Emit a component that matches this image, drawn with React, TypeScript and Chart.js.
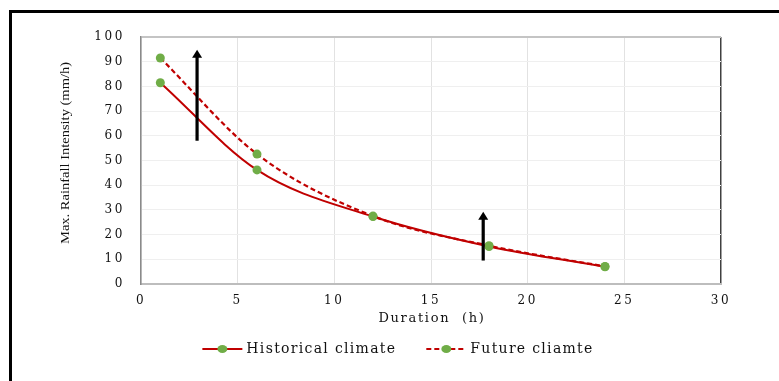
import React, { useEffect, useRef } from "react";
import { Chart, registerables } from "chart.js";

Chart.register(...registerables);

// ---- data ----
const durations = [1, 6, 12, 18, 24];
const historical = [81.5, 46.2, 27.3, 15.2, 7.0];
const future = [91.5, 52.6, 27.5, 15.5, 7.1];
const seriesNames = ["Historical climate", "Future cliamte"];
const xTitle = "Duration  (h)";
const yTitle = "Max. Rainfall Intensity (mm/h)";
const xMin = 0;
const xMax = 30;
const xStep = 5;
const yMin = 0;
const yMax = 100;
const yStep = 10;
// annotation arrows (data coordinates)
const arrowX = [2.9, 17.7];
const arrowFrom = [58, 9.5];
const arrowTo = [94.8, 29.3];

const RED = "#C00000";
const GREEN = "#70AD47";

const decorPlugin = {
  id: "decor",
  beforeDraw(chart: any) {
    chart.ctx.letterSpacing = "2.6px";
  },
  afterDatasetsDraw(chart: any) {
    const ctx = chart.ctx;
    const xs = chart.scales.x;
    const ys = chart.scales.y;
    ctx.save();
    ctx.strokeStyle = "#000";
    ctx.fillStyle = "#000";
    ctx.lineWidth = 3.2;
    for (let i = 0; i < arrowX.length; i++) {
      const px = xs.getPixelForValue(arrowX[i]);
      const y0 = ys.getPixelForValue(arrowFrom[i]);
      const y1 = ys.getPixelForValue(arrowTo[i]);
      const head = 8;
      const hw = 5;
      ctx.beginPath();
      ctx.moveTo(px, y0);
      ctx.lineTo(px, y1 + head - 1);
      ctx.stroke();
      ctx.beginPath();
      ctx.moveTo(px, y1);
      ctx.lineTo(px - hw, y1 + head);
      ctx.lineTo(px + hw, y1 + head);
      ctx.closePath();
      ctx.fill();
    }
    ctx.restore();
  },
  afterDraw(chart: any) {
    const ctx = chart.ctx;
    const area = chart.chartArea;
    ctx.save();
    // y title (condensed serif, rotated)
    ctx.letterSpacing = "0px";
    ctx.fillStyle = "#111";
    ctx.font = '14.5px "Liberation Serif"';
    ctx.textAlign = "center";
    ctx.textBaseline = "middle";
    ctx.translate(66, 153);
    ctx.rotate(-Math.PI / 2);
    ctx.scale(1, 0.85);
    ctx.fillText(yTitle, 0, 0);
    ctx.restore();

    // x title
    ctx.save();
    ctx.letterSpacing = "1.7px";
    ctx.fillStyle = "#111";
    ctx.font = '13px "DejaVu Serif"';
    ctx.textAlign = "center";
    ctx.textBaseline = "middle";
    ctx.fillText(xTitle, (area.left + area.right) / 2 + 1, 319);
    ctx.restore();

    // legend
    ctx.save();
    ctx.letterSpacing = "1.3px";
    ctx.font = '14px "DejaVu Serif"';
    ctx.fillStyle = "#111";
    ctx.textBaseline = "middle";
    ctx.textAlign = "left";
    const lineLen = 40;
    const textGap = 4;
    const itemGap = 30;
    const widths = chart.data.datasets.map(
      (d: any) => lineLen + textGap + ctx.measureText(d.label).width
    );
    const total = widths.reduce((a: number, b: number) => a + b, 0) + itemGap * (widths.length - 1);
    let x = 398 - total / 2;
    const ly = 349;
    chart.data.datasets.forEach((d: any, i: number) => {
      ctx.save();
      ctx.strokeStyle = d.borderColor;
      ctx.lineWidth = 2;
      ctx.setLineDash(d.borderDash || []);
      ctx.beginPath();
      ctx.moveTo(x, ly);
      ctx.lineTo(x + lineLen, ly);
      ctx.stroke();
      ctx.setLineDash([]);
      ctx.fillStyle = d.pointBackgroundColor;
      ctx.beginPath();
      ctx.ellipse(x + lineLen / 2, ly, 5, 4, 0, 0, Math.PI * 2);
      ctx.fill();
      ctx.restore();
      ctx.fillText(d.label, x + lineLen + textGap, ly);
      x += widths[i] + itemGap;
    });
    ctx.restore();
    ctx.letterSpacing = "0px";
  },
};

export default function App() {
  const ref = useRef<HTMLCanvasElement | null>(null);
  useEffect(() => {
    if (!ref.current) return;
    const chart = new Chart(ref.current, {
      type: "line",
      data: {
        datasets: [
          {
            label: seriesNames[0],
            data: durations.map((d, i) => ({ x: d, y: historical[i] })),
            borderColor: RED,
            borderWidth: 2,
            cubicInterpolationMode: "monotone",
            pointRadius: 4.5,
            pointBackgroundColor: GREEN,
            pointBorderColor: GREEN,
            pointBorderWidth: 0,
            order: 2,
          },
          {
            label: seriesNames[1],
            data: durations.map((d, i) => ({ x: d, y: future[i] })),
            borderColor: RED,
            borderWidth: 2.2,
            borderDash: [5, 3],
            cubicInterpolationMode: "monotone",
            pointRadius: 4.5,
            pointBackgroundColor: GREEN,
            pointBorderColor: GREEN,
            pointBorderWidth: 0,
            order: 1,
          },
        ],
      },
      options: {
        animation: false,
        responsive: false,
        devicePixelRatio: 1,
        layout: { padding: { left: 0, right: 58, top: 37, bottom: 0 } },
        plugins: {
          legend: { display: false },
          tooltip: { enabled: false },
        },
        scales: {
          x: {
            type: "linear",
            min: xMin,
            max: xMax,
            afterFit: (s: any) => {
              s.height = 97;
            },
            ticks: {
              stepSize: xStep,
              autoSkip: false,
              maxRotation: 0,
              padding: 10,
              color: "#111",
              font: { family: "DejaVu Serif", size: 12 },
            },
            grid: {
              drawTicks: false,
              color: (c: any) => (c.tick && c.tick.value === xMax ? "#404040" : "#e2e2e2"),
              lineWidth: (c: any) => (c.tick && c.tick.value === xMax ? 1.5 : 1),
            },
            border: { color: "#bdbdbd", width: 2 },
          },
          y: {
            type: "linear",
            min: yMin,
            max: yMax,
            afterFit: (s: any) => {
              s.width = 141;
            },
            ticks: {
              stepSize: yStep,
              padding: 16,
              color: "#111",
              font: { family: "DejaVu Serif", size: 12 },
            },
            grid: {
              drawTicks: false,
              color: (c: any) => (c.tick && c.tick.value === yMax ? "#c4c4c4" : "#efefef"),
              lineWidth: (c: any) => (c.tick && c.tick.value === yMax ? 2 : 1),
            },
            border: { color: "#8a8a8a", width: 1.5 },
          },
        },
      },
      plugins: [decorPlugin],
    });
    return () => chart.destroy();
  }, []);

  return (
    <div
      style={{
        position: "fixed",
        left: 0,
        top: 0,
        width: 779,
        height: 381,
        overflow: "hidden",
        background: "#fff",
      }}
    >
      <canvas ref={ref} width={779} height={381} style={{ width: 779, height: 381, display: "block" }} />
      <div
        style={{
          position: "absolute",
          left: 9,
          top: 10,
          width: 1000,
          height: 1000,
          borderLeft: "3px solid #000",
          borderTop: "3px solid #000",
          pointerEvents: "none",
        }}
      />
    </div>
  );
}
